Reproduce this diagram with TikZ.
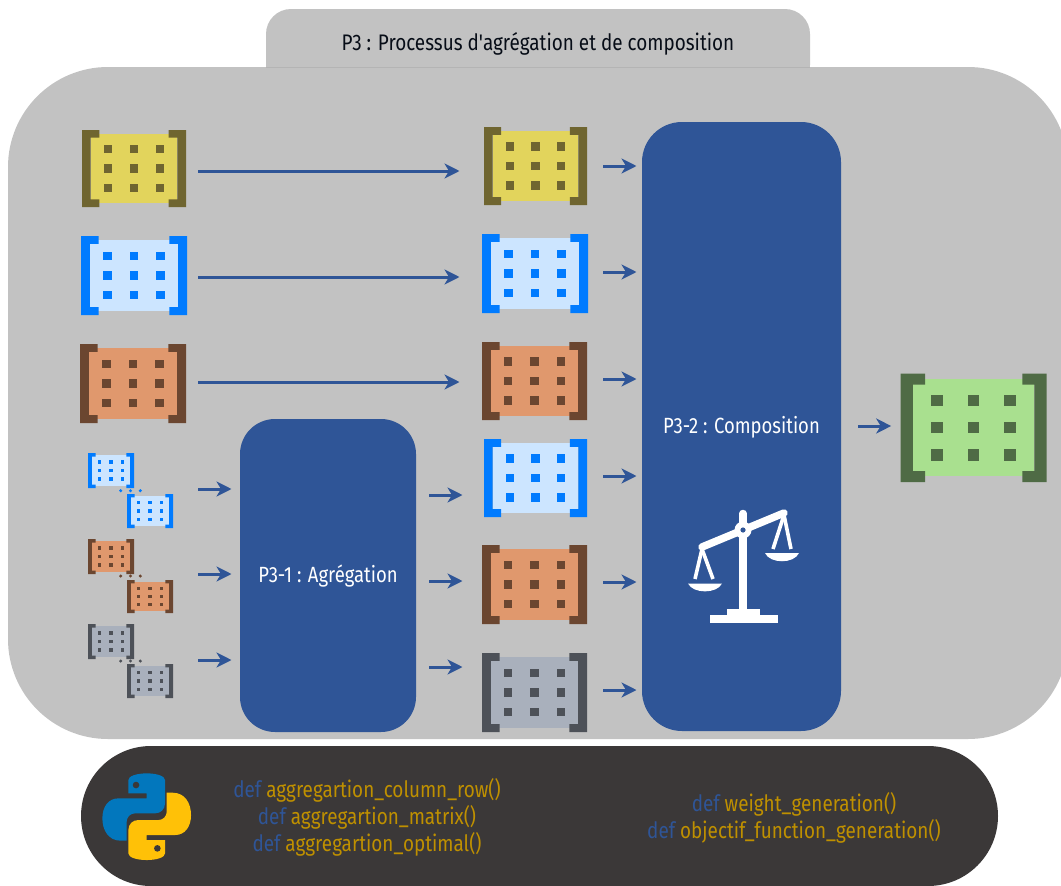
\documentclass[tikz,border=0pt]{standalone}
\usepackage{fontspec}
\setmainfont[FakeStretch=0.84]{Fira Sans}
\newfontfamily\firaplain[FakeStretch=0.84]{Fira Sans}
\usetikzlibrary{arrows.meta}
\definecolor{bgGray}{HTML}{C2C2C2}
\definecolor{tabLine}{HTML}{B4B4B4}
\definecolor{navy}{HTML}{2F5597}
\definecolor{panel}{HTML}{3B3838}
\definecolor{codeGold}{HTML}{BF9000}
\definecolor{yelF}{HTML}{E2D45C}\definecolor{yelD}{HTML}{6F6530}
\definecolor{bluF}{HTML}{CCE5FF}\definecolor{bluD}{HTML}{007BFF}
\definecolor{oraF}{HTML}{E0986D}\definecolor{oraD}{HTML}{6B4630}
\definecolor{graF}{HTML}{A9B0BC}\definecolor{graD}{HTML}{4D5158}
\definecolor{greF}{HTML}{A9E08F}\definecolor{greD}{HTML}{4F6B45}
\definecolor{pyB}{HTML}{0277BD}\definecolor{pyY}{HTML}{FFC107}
\tikzset{
  flow/.style={draw=navy,line width=3pt,-{Stealth[length=15pt,width=15pt,inset=4.5pt]},shorten >=-0.5pt},
  procbox/.style={fill=navy,text=white,inner sep=0pt,outer sep=0pt},
  boxlabel/.style={text=white,inner sep=0pt,font=\fontsize{22}{26}\selectfont},
  titletext/.style={text=black!85!navy,inner sep=0pt,font=\fontsize{22.5}{26}\selectfont},
  codetext/.style={align=center,inner sep=0pt,text=codeGold,font=\fontsize{22.5}{27}\selectfont},
  anchorbox/.style={inner sep=0pt,outer sep=0pt},
  scalepart/.style={draw=white,line cap=round}
}
% #1 name, #2 x0, #3 y0, #4 x1, #5 y1, #6 fill, #7 dark
\newcommand{\matr}[7]{%
  \pgfmathsetmacro{\mW}{#4-#2}\pgfmathsetmacro{\mH}{#5-#3}%
  \pgfmathsetmacro{\mcx}{(#2+#4)/2}\pgfmathsetmacro{\mcy}{(#3+#5)/2}%
  \pgfmathsetmacro{\mt}{0.084*\mW}\pgfmathsetmacro{\mtw}{0.167*\mW}%
  \pgfmathsetmacro{\mth}{0.10*\mH}\pgfmathsetmacro{\mi}{0.052*\mH}%
  \pgfmathsetmacro{\mdx}{0.0395*\mW}\pgfmathsetmacro{\mdy}{0.052*\mH}%
  \fill[#6] (#2+\mt,#3+\mi) rectangle (#4-\mt,#5-\mi);
  \fill[#7] (#2,#3) -- ++(\mtw,0) -- ++(0,\mth) -- ++(\mt-\mtw,0) -- (#2+\mt,#5-\mth) -- ++(\mtw-\mt,0) -- ++(0,\mth) -- (#2,#5) -- cycle;
  \fill[#7] (#4,#3) -- ++(-\mtw,0) -- ++(0,\mth) -- ++(\mtw-\mt,0) -- (#4-\mt,#5-\mth) -- ++(\mt-\mtw,0) -- ++(0,\mth) -- (#4,#5) -- cycle;
  \foreach \ci in {-1,0,1}{\foreach \cj in {-1,0,1}{%
    \fill[#7] (\mcx+\ci*0.25*\mW-\mdx,\mcy+\cj*0.25*\mH-\mdy) rectangle (\mcx+\ci*0.25*\mW+\mdx,\mcy+\cj*0.25*\mH+\mdy);
  }}
  \node[anchorbox,minimum width=\mW pt,minimum height=\mH pt] (#1) at (\mcx,\mcy) {};
}
% #1 from, #2 gap, #3 to, #4 gap, #5 y
\newcommand{\conn}[5]{\draw[flow] ([xshift=#2pt]#1.east |- 0,#5) -- ([xshift=-#4pt]#3.west |- 0,#5);}
\begin{document}
\begin{tikzpicture}[x=1pt,y=-1pt]
\useasboundingbox (0,0) rectangle (1061,886);
\clip (0,0) rectangle (1061,886);
% frames
\fill[bgGray,rounded corners=25pt] (266,9) rectangle (810,90);
\fill[bgGray,rounded corners=100pt] (8,67) rectangle (1068,739);
\draw[tabLine,line width=0.6pt] (266,67) -- (810,67);
\fill[panel,rounded corners=70pt] (81,746) rectangle (998,886);
\node[titletext] (title) at (538,43.5) {P3 : Processus d{\firaplain '}agrégation et de composition};
% process boxes
\node[procbox,minimum width=176pt,minimum height=313pt,rounded corners=35pt] (agg) at (328,575.5) {};
\node[procbox,minimum width=199pt,minimum height=609pt,rounded corners=40pt] (comp) at (741.5,426.5) {};
\node[boxlabel] (aggt) at (328,576) {P3-1 : Agrégation};
\node[boxlabel] (compt) at (741.5,427) {P3-2 : Composition};
% left column
\matr{a1}{82}{130}{186}{207}{yelF}{yelD}
\matr{a2}{81}{236}{187}{315}{bluF}{bluD}
\matr{a3}{80}{344}{186}{423}{oraF}{oraD}
% small pairs
\matr{s1}{88}{453}{134}{488}{bluF}{bluD}
\matr{s2}{127}{494}{173}{528}{bluF}{bluD}
\matr{s3}{88}{539}{134}{574}{oraF}{oraD}
\matr{s4}{127}{580}{173}{613}{oraF}{oraD}
\matr{s5}{88}{624}{134}{659}{graF}{graD}
\matr{s6}{127}{664}{173}{698}{graF}{graD}
\foreach \dy/\dc in {490.7/bluD,576/oraD,661/graD}{
  \foreach \dx in {120.7,130.5,140.3}{\fill[\dc] (\dx,\dy) circle (1.7pt);}
}
% middle column
\matr{b1}{484}{127}{587}{205}{yelF}{yelD}
\matr{b2}{482}{234}{588}{313}{bluF}{bluD}
\matr{b3}{482}{342}{587}{420}{oraF}{oraD}
\matr{b4}{484}{439}{587}{517}{bluF}{bluD}
\matr{b5}{482}{545}{587}{624}{oraF}{oraD}
\matr{b6}{482}{653}{587}{732}{graF}{graD}
% result
\matr{res}{900.7}{373.7}{1046.7}{482}{greF}{greD}
% connectors
\conn{a1}{12}{b1}{25}{171}
\conn{a2}{11}{b2}{23}{277}
\conn{a3}{12}{b3}{23}{382}
\conn{s2}{25}{agg}{9}{489}
\conn{s4}{25}{agg}{9}{574}
\conn{s6}{25}{agg}{9}{660}
\conn{agg}{13}{b4}{22}{495}
\conn{agg}{13}{b5}{20}{581}
\conn{agg}{13}{b6}{20}{667}
\conn{b1}{16}{comp}{6}{166}
\conn{b2}{15}{comp}{6}{272}
\conn{b3}{16}{comp}{6}{379}
\conn{b4}{16}{comp}{6}{476}
\conn{b5}{16}{comp}{6}{582}
\conn{b6}{16}{comp}{6}{690}
\conn{comp}{17}{res}{10}{426}
% balance icon
\draw[scalepart,line width=7.5pt,line cap=butt] (743,513) -- (743,612);
\draw[scalepart,line width=7.5pt] (743,513.5) -- (743,520);
\draw[scalepart,line width=7.5pt] (702,547) -- (784,513);
\fill[white] (743,530) circle (8.5pt);
\fill[navy] (743,530) circle (2.6pt);
\fill[white] (727,609) rectangle (760,616);
\fill[white] (709.5,615) rectangle (778,623);
\draw[scalepart,line width=3.6pt,line cap=butt] (702,549) -- (695,579);
\draw[scalepart,line width=3.6pt,line cap=butt] (702,549) -- (713,579);
\draw[scalepart,line width=3.6pt,line cap=butt] (784,515) -- (773,549);
\draw[scalepart,line width=3.6pt,line cap=butt] (784,515) -- (791,549);
\fill[white] (688,583.5) .. controls (693,594) and (717,594) .. (722,583.5) -- cycle;
\fill[white] (765,553) .. controls (770,564) and (794,564) .. (799,553) -- cycle;
% python logo
\begin{scope}[shift={(146.7,816.7)},x=0.3333pt,y=-0.3333pt]
  \fill[pyB,rounded corners=0pt] (-55,-70) -- (-55,-110)
     .. controls (-55,-122) and (-30,-130) .. (0,-130)
     .. controls (30,-130) and (55,-122) .. (55,-110)
     -- (55,-40) .. controls (55,-22) and (42,-10) .. (25,-10)
     -- (-35,-10) .. controls (-50,-10) and (-60,2) .. (-60,15)
     -- (-60,72) -- (-78,72)
     .. controls (-115,72) and (-133,40) .. (-133,5)
     .. controls (-133,-30) and (-115,-55) .. (-85,-55)
     -- (0,-55) -- (0,-70) -- cycle;
  \fill[pyY,rotate=180] (-55,-70) -- (-55,-110)
     .. controls (-55,-122) and (-30,-130) .. (0,-130)
     .. controls (30,-130) and (55,-122) .. (55,-110)
     -- (55,-40) .. controls (55,-22) and (42,-10) .. (25,-10)
     -- (-35,-10) .. controls (-50,-10) and (-60,2) .. (-60,15)
     -- (-60,72) -- (-78,72)
     .. controls (-115,72) and (-133,40) .. (-133,5)
     .. controls (-133,-30) and (-115,-55) .. (-85,-55)
     -- (0,-55) -- (0,-70) -- cycle;
  \fill[panel] (-32,-95) circle (3.3pt);
  \fill[panel] (32,95) circle (3.3pt);
\end{scope}
% code
\node[codetext] (code1) at (367,817.5) {\textcolor{navy}{def} aggregartion\_column\_row()\\\textcolor{navy}{def} aggregartion\_matrix()\\\textcolor{navy}{def} aggregartion\_optimal()};
\node[codetext] (code2) at (794,818) {\textcolor{navy}{def} weight\_generation()\\\textcolor{navy}{def} objectif\_function\_generation()};
\end{tikzpicture}
\end{document}
